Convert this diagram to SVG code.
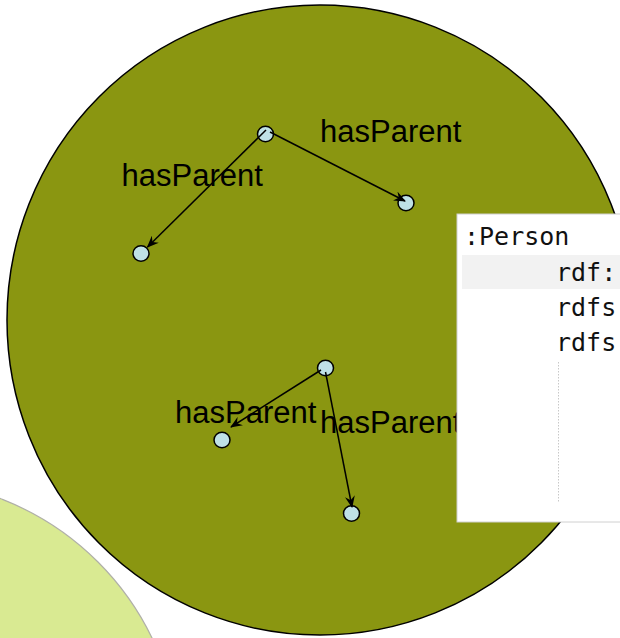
<svg xmlns="http://www.w3.org/2000/svg" width="620" height="638" viewBox="0 0 620 638">
  <defs>
    <marker id="arr" markerWidth="12" markerHeight="10" refX="11" refY="5" orient="auto" markerUnits="userSpaceOnUse">
      <path d="M0,0 L12,5 L0,10 L4,5 z" fill="#000"/>
    </marker>
    <style>
      .node { fill: #bfe1e6; stroke: #000; stroke-width: 1.5; }
      .edge { stroke: #000; stroke-width: 1.5; fill: none; marker-end: url(#arr); }
      .lbl { font-family: "Liberation Sans", Arial, sans-serif; font-size: 31px; fill: #000; }
      .code { font-family: "DejaVu Sans Mono", "Liberation Mono", monospace; font-size: 25px; fill: #111; }
    </style>
  </defs>
  <rect width="620" height="638" fill="#fff"/>
  <circle id="lightCircle" cx="-100" cy="760" r="280" fill="#d9ea92" stroke="#b0b0a8" stroke-width="1.2"/>
  <ellipse id="bigCircle" cx="320" cy="320" rx="313" ry="315" fill="#8a9611" stroke="#000" stroke-width="1.5"/>

  <g id="n1"><ellipse class="node" cx="265.5" cy="134" rx="8" ry="7.8"/></g>
  <g id="n2"><ellipse class="node" cx="406" cy="203" rx="8" ry="7.8"/></g>
  <g id="n3"><ellipse class="node" cx="141" cy="253.5" rx="8" ry="7.8"/></g>
  <g id="n4"><ellipse class="node" cx="325.5" cy="368" rx="8" ry="7.8"/></g>
  <g id="n5"><ellipse class="node" cx="222" cy="440" rx="8" ry="7.8"/></g>
  <g id="n6"><ellipse class="node" cx="351.5" cy="513.5" rx="8" ry="7.8"/></g>

  <g id="connectors">
    <line class="edge" x1="266" y1="130" x2="147.5" y2="247"/>
    <line class="edge" x1="270" y1="132" x2="405" y2="201"/>
    <line class="edge" x1="321" y1="370" x2="231" y2="427"/>
    <line class="edge" x1="325.5" y1="372" x2="352" y2="507"/>
  </g>

  <g id="labels">
    <text class="lbl" x="320" y="141.5">hasParent</text>
    <text class="lbl" x="121.5" y="186">hasParent</text>
    <text class="lbl" x="175" y="422.5">hasParent</text>
    <text class="lbl" x="320" y="432.5">hasParent</text>
  </g>

  <g id="codeBox">
    <rect x="457" y="214" width="170" height="308" fill="#fff" stroke="#d0d0d0" stroke-width="1"/>
    <rect x="462" y="255" width="160" height="34" fill="#f2f2f2"/>
    <text class="code" x="464" y="245">:Person</text>
    <text class="code" x="556" y="281">rdf:</text>
    <text class="code" x="556" y="315.5">rdfs</text>
    <text class="code" x="556" y="350.5">rdfs</text>
    <line x1="558.5" y1="362" x2="558.5" y2="502" stroke="#c8c8c8" stroke-width="1" stroke-dasharray="1.5,1.5"/>
  </g>
</svg>
